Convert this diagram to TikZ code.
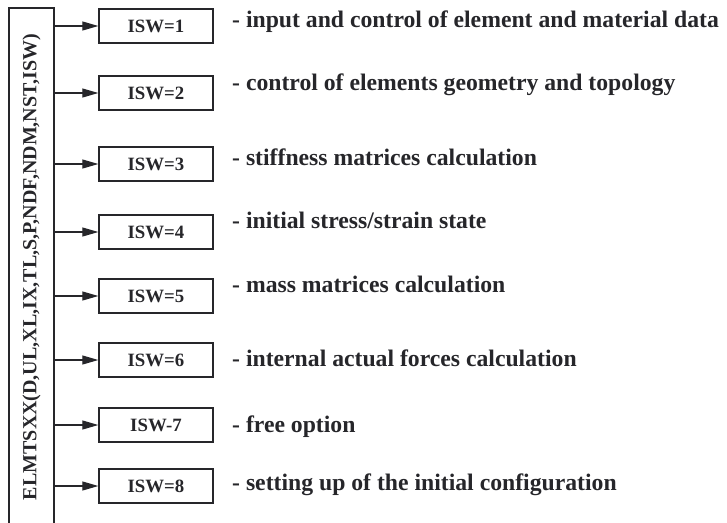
\documentclass[tikz,border=0pt]{standalone}
\usepackage{fontspec}
\setmainfont{Liberation Serif}
\usetikzlibrary{arrows.meta, positioning}
\definecolor{inkdark}{RGB}{38,38,42}

\begin{document}
\begin{tikzpicture}[x=1pt, y=-1pt,
    iswbox/.style={draw=inkdark, line width=1.4pt, minimum width=114pt, minimum height=34pt,
        inner sep=0pt, text=inkdark, font=\bfseries\fontsize{18.8}{21}\selectfont},
    desc/.style={anchor=base west, inner sep=0pt, text=inkdark,
        font=\bfseries\fontsize{23.7}{27}\selectfont},
    callarrow/.style={draw=inkdark, line width=1.1pt, -{Triangle[length=16pt, width=9pt]}}]
    \useasboundingbox (0,0) rectangle (727,522);

    % Element routine
    \node[draw=inkdark, line width=1.4pt, minimum width=45pt, minimum height=518pt, inner sep=0pt,
        text=inkdark, font=\bfseries\fontsize{20}{22}\selectfont] (elmt) at (31.5,267)
        {\rotatebox{90}{ELMTSXX(D,UL,XL,IX,TL,S,P,NDF,NDM,NST,ISW)}};

    % Switch values and their tasks
    \foreach \i/\y/\lab/\base/\txt in {
        1/26/ISW=1/27/{- input and control of element and material data},
        2/93/ISW=2/90/{- control of elements geometry and topology},
        3/164/ISW=3/165/{- stiffness matrices calculation},
        4/232/ISW=4/228/{- initial stress/strain state},
        5/296/ISW=5/292/{- mass matrices calculation},
        6/360/ISW=6/366/{- internal actual forces calculation},
        7/425/ISW-7/432/{- free option},
        8/486/ISW=8/490/{- setting up of the initial configuration}} {
        \node[iswbox] (isw\i) at (156,\y) {\lab};
        \draw[callarrow] (elmt.east |- isw\i.west) -- (isw\i.west);
        \node[desc] (desc\i) at (232,\base) {\txt};
    }
\end{tikzpicture}
\end{document}
